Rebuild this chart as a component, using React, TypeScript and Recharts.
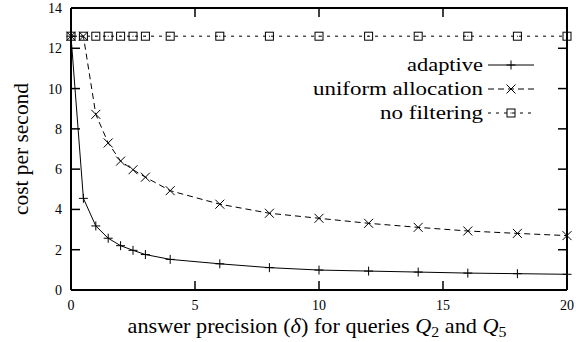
import React from 'react';
import { LineChart, Line, XAxis, YAxis, ReferenceLine, Customized } from 'recharts';

const precision = [0, 0.5, 1, 1.5, 2, 2.5, 3, 4, 6, 8, 10, 12, 14, 16, 18, 20];
const adaptive = [12.6, 4.55, 3.18, 2.57, 2.2, 1.97, 1.76, 1.52, 1.3, 1.11, 0.99, 0.94, 0.89, 0.84, 0.81, 0.78];
const uniformAllocation = [12.6, 12.6, 8.72, 7.3, 6.4, 5.97, 5.6, 4.93, 4.26, 3.81, 3.56, 3.31, 3.11, 2.93, 2.81, 2.7];
const noFiltering = [12.6, 12.6, 12.6, 12.6, 12.6, 12.6, 12.6, 12.6, 12.6, 12.6, 12.6, 12.6, 12.6, 12.6, 12.6, 12.6];
const xTicks = [0, 5, 10, 15, 20];
const yTicks = [0, 2, 4, 6, 8, 10, 12, 14];
const xDomain = [0, 20];
const yDomain = [0, 14];
const seriesNames = ['adaptive', 'uniform allocation', 'no filtering'];

const data = precision.map((x, i) => ({
  x,
  adaptive: adaptive[i],
  uniform: uniformAllocation[i],
  none: noFiltering[i],
}));

// layout
const W = 576;
const H = 342;
const MARGIN = { top: 8, right: 9, bottom: 0, left: 0 };
const Y_AXIS_W = 71;
const X_AXIS_H = 52;
const PLOT_LEFT = MARGIN.left + Y_AXIS_W;
const PLOT_RIGHT = W - MARGIN.right;
const PLOT_TOP = MARGIN.top;
const PLOT_BOTTOM = H - MARGIN.bottom - X_AXIS_H;
const TICK = 9;

const FONT = '"Liberation Serif", "Times New Roman", Times, serif';
const INK = '#000';

const plusMark = (cx: number, cy: number) => {
  const s = 4.5;
  return (
    <g>
      <line x1={cx - s} x2={cx + s} y1={cy} y2={cy} stroke={INK} strokeWidth={1} />
      <line x1={cx} x2={cx} y1={cy - s} y2={cy + s} stroke={INK} strokeWidth={1} />
    </g>
  );
};
const crossMark = (cx: number, cy: number) => {
  const s = 4.5;
  return (
    <g>
      <line x1={cx - s} x2={cx + s} y1={cy - s} y2={cy + s} stroke={INK} strokeWidth={1} />
      <line x1={cx - s} x2={cx + s} y1={cy + s} y2={cy - s} stroke={INK} strokeWidth={1} />
    </g>
  );
};
const boxMark = (cx: number, cy: number) => {
  const s = 4;
  return (
    <g>
      <rect x={cx - s} y={cy - s} width={2 * s} height={2 * s} fill="none" stroke={INK} strokeWidth={1} />
      <rect x={cx - 0.5} y={cy - 0.5} width={1} height={1} fill={INK} />
    </g>
  );
};

const MarkDot = (p: any) => {
  if (p.cx == null || p.cy == null) return null;
  if (p.kind === 'plus') return plusMark(p.cx, p.cy);
  if (p.kind === 'cross') return crossMark(p.cx, p.cy);
  return boxMark(p.cx, p.cy);
};

const BottomTick = (p: any) => (
  <text x={p.x} y={PLOT_BOTTOM + 20} textAnchor="middle" fontFamily={FONT} fontSize={14} fill={INK}>
    {p.payload && p.payload.value}
  </text>
);

const LeftTick = (p: any) => (
  <text x={PLOT_LEFT - 9} y={p.y + 5} textAnchor="end" fontFamily={FONT} fontSize={14} fill={INK}>
    {p.payload && p.payload.value}
  </text>
);

const xPix = (v: number) => PLOT_LEFT + ((v - xDomain[0]) / (xDomain[1] - xDomain[0])) * (PLOT_RIGHT - PLOT_LEFT);
const yPix = (v: number) => PLOT_BOTTOM - ((v - yDomain[0]) / (yDomain[1] - yDomain[0])) * (PLOT_BOTTOM - PLOT_TOP);

const legendRows = [
  { name: seriesNames[0], dash: undefined, mark: plusMark, y: 65, len: 76 },
  { name: seriesNames[1], dash: '6 4', mark: crossMark, y: 89, len: 170 },
  { name: seriesNames[2], dash: '3 5', mark: boxMark, y: 113, len: 103 },
];

const Decorations = () => {
  const cx = (PLOT_LEFT + PLOT_RIGHT) / 2 - 2;
  return (
    <g>
      {/* frame (top and right edges) */}
      <line x1={PLOT_LEFT} x2={PLOT_RIGHT + 1} y1={PLOT_TOP} y2={PLOT_TOP} stroke={INK} strokeWidth={2} />
      <line x1={PLOT_RIGHT} x2={PLOT_RIGHT} y1={PLOT_TOP} y2={PLOT_BOTTOM} stroke={INK} strokeWidth={2} />
      {/* inward tick marks on all four sides */}
      {xTicks.map((v, i) => (
        <g key={`xt${i}`}>
          <line x1={xPix(v)} x2={xPix(v)} y1={PLOT_BOTTOM} y2={PLOT_BOTTOM - TICK} stroke={INK} strokeWidth={1.5} />
          <line x1={xPix(v)} x2={xPix(v)} y1={PLOT_TOP} y2={PLOT_TOP + TICK} stroke={INK} strokeWidth={1.5} />
        </g>
      ))}
      {yTicks.map((v, i) => (
        <g key={`yt${i}`}>
          <line x1={PLOT_LEFT} x2={PLOT_LEFT + TICK} y1={yPix(v)} y2={yPix(v)} stroke={INK} strokeWidth={1.5} />
          <line x1={PLOT_RIGHT} x2={PLOT_RIGHT - TICK} y1={yPix(v)} y2={yPix(v)} stroke={INK} strokeWidth={1.5} />
        </g>
      ))}
      <g transform={`translate(${cx},${PLOT_BOTTOM + 43}) scale(1.06,1)`}>
        <text x={0} y={0} textAnchor="middle" fontFamily={FONT} fontSize={21} fill={INK}>
          answer precision (<tspan fontStyle="italic">δ</tspan>) for queries <tspan fontStyle="italic">Q</tspan>
          <tspan fontSize={15} dy={4}>2</tspan>
          <tspan dy={-4}> and </tspan>
          <tspan fontStyle="italic">Q</tspan>
          <tspan fontSize={15} dy={4}>5</tspan>
        </text>
      </g>
      <text
        transform="translate(28,149) rotate(-90)"
        x={0}
        y={0}
        textAnchor="middle"
        fontFamily={FONT}
        fontSize={20}
        fill={INK}
        textLength={132}
        lengthAdjust="spacingAndGlyphs"
      >
        cost per second
      </text>
      {legendRows.map((r, i) => (
        <g key={i}>
          <text
            x={483}
            y={r.y + 6}
            textAnchor="end"
            fontFamily={FONT}
            fontSize={18}
            fill={INK}
            textLength={r.len}
            lengthAdjust="spacingAndGlyphs"
          >
            {r.name}
          </text>
          <line x1={488} x2={534} y1={r.y} y2={r.y} stroke={INK} strokeWidth={1} strokeDasharray={r.dash} />
          {r.mark(511, r.y)}
        </g>
      ))}
    </g>
  );
};

export default function App() {
  return (
    <div style={{ position: 'absolute', left: 0, top: 0, background: '#fff' }}>
      <LineChart width={W} height={H} data={data} margin={MARGIN}>
        <XAxis dataKey="x" type="number" domain={xDomain} ticks={xTicks} interval={0} height={X_AXIS_H}
          tickSize={0} tickMargin={0} tickLine={false} tick={<BottomTick />} axisLine={{ stroke: INK, strokeWidth: 2 }} />
        <YAxis type="number" domain={yDomain} ticks={yTicks} interval={0} width={Y_AXIS_W}
          tickSize={0} tickMargin={0} tickLine={false} tick={<LeftTick />} axisLine={{ stroke: INK, strokeWidth: 2 }} />
        <ReferenceLine y={14} stroke={INK} strokeWidth={2} ifOverflow="visible" />
        <ReferenceLine x={20} stroke={INK} strokeWidth={2} ifOverflow="visible" />
        <Line dataKey="none" stroke={INK} strokeWidth={1} strokeDasharray="3 5"
          dot={<MarkDot kind="box" />} isAnimationActive={false} />
        <Line dataKey="uniform" stroke={INK} strokeWidth={1} strokeDasharray="6 4"
          dot={<MarkDot kind="cross" />} isAnimationActive={false} />
        <Line dataKey="adaptive" stroke={INK} strokeWidth={1}
          dot={<MarkDot kind="plus" />} isAnimationActive={false} />
        <Customized component={<Decorations />} />
      </LineChart>
    </div>
  );
}
